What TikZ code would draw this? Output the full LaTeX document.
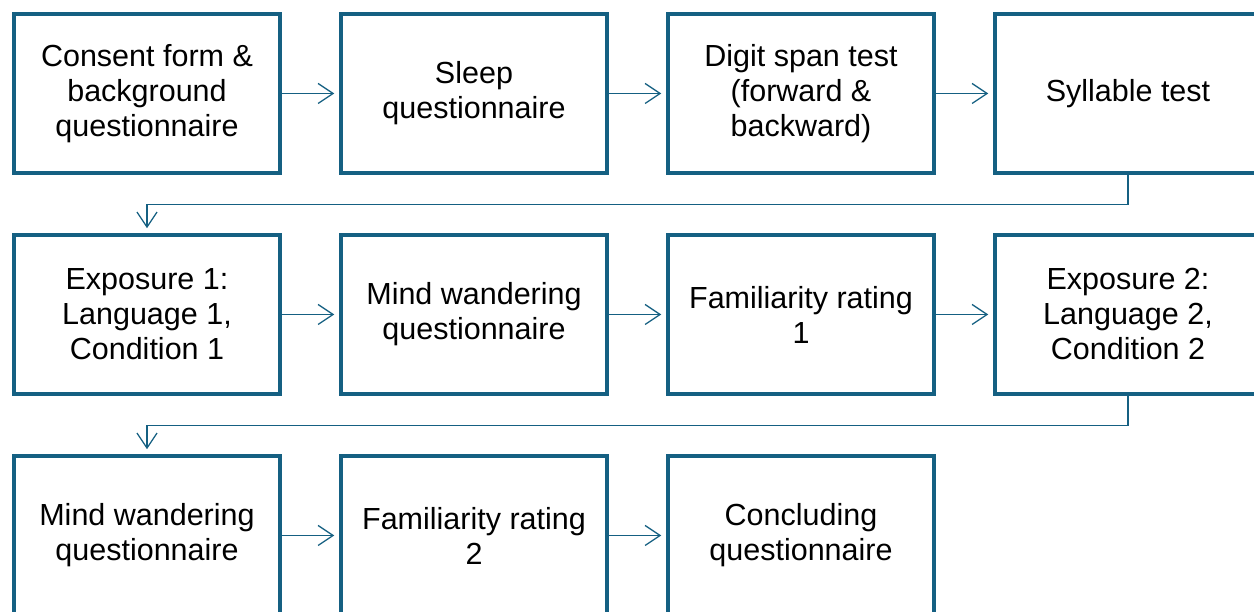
\documentclass[tikz,border=0pt]{standalone}
\usepackage{fontspec}
\setmainfont{Liberation Sans}
\usetikzlibrary{arrows.meta}
\definecolor{boxblue}{HTML}{156082}
\begin{document}
\begin{tikzpicture}[x=1pt,y=1pt,
  stepbox/.style={draw=boxblue,line width=3.5pt,fill=white,minimum width=266pt,minimum height=159pt,
    align=center,inner sep=0pt,font=\fontsize{30.5}{35}\selectfont,text=black},
  conn/.style={draw=boxblue,line width=1.3pt,shorten >=5pt,-{Straight Barb[length=15pt,width=20pt,line width=1.3pt]}}]
\useasboundingbox (0,0) rectangle (1254,612);
\fill[white] (0,0) rectangle (1254,612);
% row 1
\node[stepbox] (a1) at (147,518.5) {Consent form \&\\background\\questionnaire};
\node[stepbox] (a2) at (474,518.5) {Sleep\\questionnaire};
\node[stepbox] (a3) at (801,518.5) {Digit span test\\(forward \&\\backward)};
\node[stepbox] (a4) at (1128,518.5) {Syllable test};
% row 2
\node[stepbox] (b1) at (147,297.5) {Exposure 1:\\Language 1,\\Condition 1};
\node[stepbox] (b2) at (474,297.5) {Mind wandering\\questionnaire};
\node[stepbox] (b3) at (801,297.5) {Familiarity rating\\1};
\node[stepbox] (b4) at (1128,297.5) {Exposure 2:\\Language 2,\\Condition 2};
% row 3
\node[stepbox] (c1) at (147,76.5) {Mind wandering\\questionnaire};
\node[stepbox] (c2) at (474,76.5) {Familiarity rating\\2};
\node[stepbox] (c3) at (801,76.5) {Concluding\\questionnaire};
% connectors
\draw[conn] (a1) -- (a2);
\draw[conn] (a2) -- (a3);
\draw[conn] (a3) -- (a4);
\draw[conn] (a4.south) -- ++(0,-30) -| (b1.north);
\draw[conn] (b1) -- (b2);
\draw[conn] (b2) -- (b3);
\draw[conn] (b3) -- (b4);
\draw[conn] (b4.south) -- ++(0,-30) -| (c1.north);
\draw[conn] (c1) -- (c2);
\draw[conn] (c2) -- (c3);
\end{tikzpicture}
\end{document}
